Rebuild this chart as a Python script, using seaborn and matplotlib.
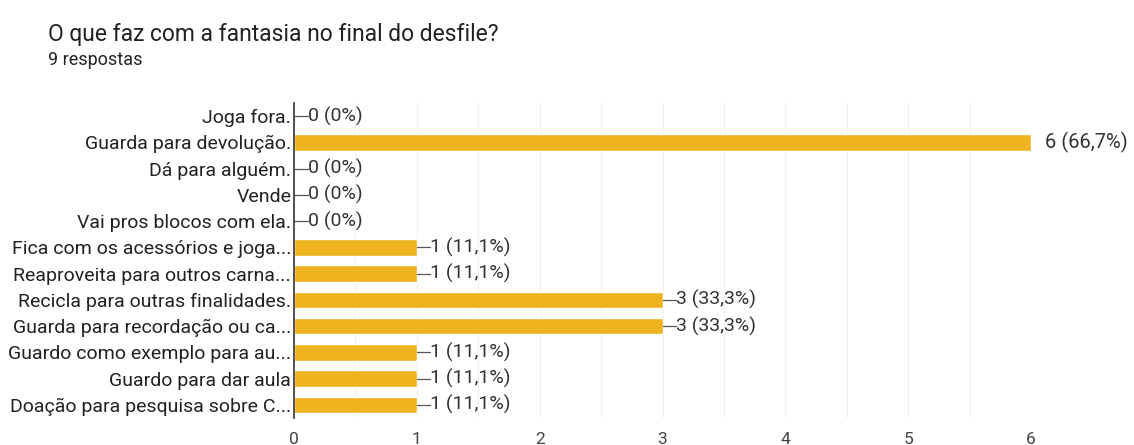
import matplotlib
matplotlib.use("Agg")
import matplotlib.pyplot as plt
import seaborn as sns
import pandas as pd
import numpy as np

categories = [
    "Joga fora.",
    "Guarda para devolução.",
    "Dá para alguém.",
    "Vende",
    "Vai pros blocos com ela.",
    "Fica com os acessórios e joga...",
    "Reaproveita para outros carna...",
    "Recicla para outras finalidades.",
    "Guarda para recordação ou ca...",
    "Guardo como exemplo para au...",
    "Guardo para dar aula",
    "Doação para pesquisa sobre C...",
]
counts = [0, 6, 0, 0, 0, 1, 1, 3, 3, 1, 1, 1]
labels = ["0 (0%)", "6 (66,7%)", "0 (0%)", "0 (0%)", "0 (0%)", "1 (11,1%)",
          "1 (11,1%)", "3 (33,3%)", "3 (33,3%)", "1 (11,1%)", "1 (11,1%)", "1 (11,1%)"]
xticks = [0, 1, 2, 3, 4, 5, 6]

df = pd.DataFrame({"cat": categories, "n": counts})

sns.set_theme(style="white")
plt.rcParams["font.family"] = ["Roboto", "DejaVu Sans"]

fig = plt.figure(figsize=(11.34, 4.45), dpi=100)
ax = fig.add_axes([294/1134, 1 - 418/445, (1031-294)/1134, (418-103)/445])

sns.barplot(data=df, y="cat", x="n", orient="h", color="#EFB31F",
            saturation=1, width=0.62, ax=ax, zorder=3)

ax.set_xlim(0, 6)
ax.set_ylim(len(categories) - 0.5, -0.5)
for v in np.arange(0.5, 6.01, 0.5):
    ax.axvline(v, color="#EFEFEF", lw=0.8, zorder=0)
ax.set_xticks(xticks)
ax.set_xticklabels([str(t) for t in xticks], color="#444444", fontsize=12.5)
ax.tick_params(axis="x", length=0, pad=10)
ax.tick_params(axis="y", length=0, pad=2)
ax.set_yticks(range(len(categories)))
ax.set_yticklabels(categories, fontsize=14, color="#222222")
ax.set_xlabel("")
ax.set_ylabel("")
for s in ["top", "right", "bottom"]:
    ax.spines[s].set_visible(False)
ax.spines["left"].set_color("#333333")
ax.spines["left"].set_linewidth(1.2)
ax.spines["left"].set_zorder(5)

for i, (n, lab) in enumerate(zip(counts, labels)):
    if n >= 6:
        ax.text(n + 0.11, i, lab, va="center", ha="left", fontsize=14.5,
                color="#333333", clip_on=False)
    else:
        ax.plot([n, n + 0.11], [i, i], color="#555555", lw=0.9, zorder=4, clip_on=False)
        ax.text(n + 0.11, i, lab, va="center", ha="left", fontsize=14,
                color="#333333")

fig.text(48/1134, 1 - 35/445, "O que faz com a fantasia no final do desfile?",
         fontsize=16.5, color="#222222", va="center", ha="left")
fig.text(48/1134, 1 - 60/445, "9 respostas", fontsize=13,
         color="#222222", va="center", ha="left")

fig.savefig("out.png", dpi=100, facecolor="white")
